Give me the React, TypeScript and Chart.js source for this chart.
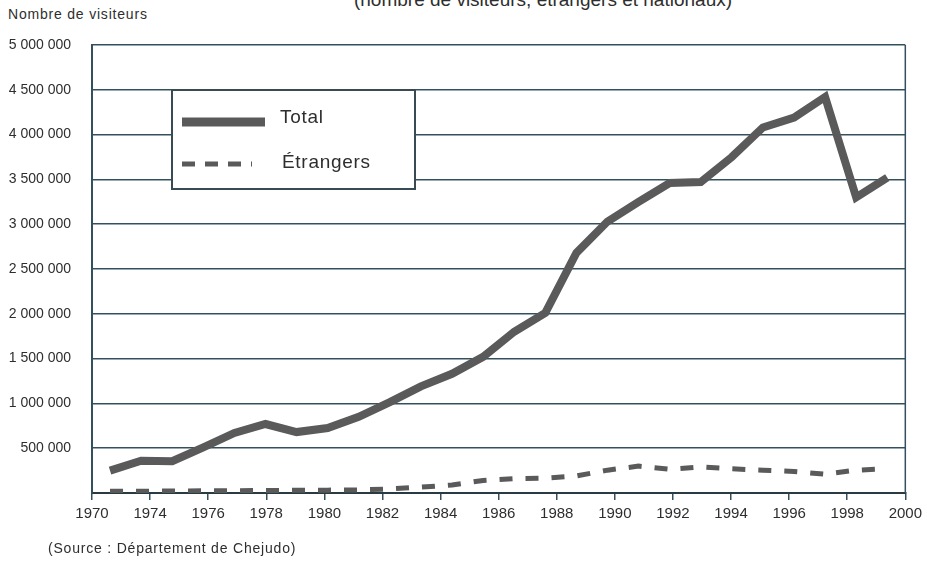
import React, { useEffect, useRef } from "react";
import { Chart, registerables } from "chart.js";

Chart.register(...registerables);

// Axis tick labels as printed on the original chart
const xTickLabels = ["1970", "1974", "1976", "1978", "1980", "1982", "1984", "1986", "1988", "1990", "1992", "1994", "1996", "1998", "2000"];

// Data years (one point per year)
const years = [1974, 1975, 1976, 1977, 1978, 1979, 1980, 1981, 1982, 1983, 1984, 1985, 1986, 1987, 1988, 1989, 1990, 1991, 1992, 1993, 1994, 1995, 1996, 1997, 1998, 1999];

// Total visitors
const totalValues = [250000, 360000, 355000, 510000, 670000, 770000, 680000, 725000, 850000, 1015000, 1190000, 1330000, 1520000, 1800000, 2010000, 2680000, 3030000, 3250000, 3460000, 3470000, 3750000, 4080000, 4190000, 4420000, 3300000, 3520000];

// Foreign visitors
const foreignValues = [20000, 20000, 22000, 25000, 25000, 28000, 30000, 32000, 35000, 45000, 65000, 90000, 140000, 160000, 165000, 190000, 255000, 300000, 265000, 290000, 270000, 255000, 240000, 210000, 255000, 270000];

const yTicks = { min: 0, max: 5000000, step: 500000 };

const FONT = "'Liberation Sans', Arial, Helvetica, sans-serif";
const GRID = "#34505e";
const LINE = "#5a5a5a";
const TEXT = "#2e2e2e";

function fmt(v: number): string {
  return String(Math.round(v)).replace(/\B(?=(\d{3})+(?!\d))/g, " ");
}

const framePlugin = {
  id: "frameAndLegend",
  afterDatasetsDraw(chart: any) {
    const { ctx, chartArea } = chart;
    ctx.save();
    // right border
    ctx.strokeStyle = GRID;
    ctx.lineWidth = 1.5;
    ctx.beginPath();
    ctx.moveTo(chartArea.right, chartArea.top);
    ctx.lineTo(chartArea.right, chartArea.bottom);
    ctx.stroke();

    // legend box
    const bx = chartArea.left + 80;
    const by = chartArea.top + 45;
    const bw = 243;
    const bh = 99;
    ctx.fillStyle = "#ffffff";
    ctx.fillRect(bx, by, bw, bh);
    ctx.strokeStyle = "#3a4a52";
    ctx.lineWidth = 2;
    ctx.strokeRect(bx, by, bw, bh);

    const ds = chart.data.datasets;
    // Total entry
    ctx.strokeStyle = ds[0].borderColor;
    ctx.lineWidth = 9;
    ctx.setLineDash([]);
    ctx.beginPath();
    ctx.moveTo(bx + 10, by + 32);
    ctx.lineTo(bx + 93, by + 32);
    ctx.stroke();
    // Foreign entry
    ctx.strokeStyle = ds[1].borderColor;
    ctx.lineWidth = 5;
    ctx.setLineDash([13, 10]);
    ctx.beginPath();
    ctx.moveTo(bx + 10, by + 74);
    ctx.lineTo(bx + 80, by + 74);
    ctx.stroke();
    ctx.setLineDash([]);

    ctx.fillStyle = TEXT;
    ctx.font = `19px ${FONT}`;
    try { (ctx as any).letterSpacing = "0.7px"; } catch (e) {}
    ctx.textBaseline = "middle";
    ctx.textAlign = "left";
    ctx.fillText(ds[0].label, bx + 108, by + 28);
    ctx.fillText(ds[1].label, bx + 110, by + 73);
    try { (ctx as any).letterSpacing = "0px"; } catch (e) {}
    ctx.restore();
  },
};

export default function App() {
  const ref = useRef<HTMLCanvasElement | null>(null);

  useEffect(() => {
    if (!ref.current) return;
    const chart = new Chart(ref.current, {
      type: "line",
      data: {
        datasets: [
          {
            label: "Total",
            data: years.map((y, i) => ({ x: y, y: totalValues[i] })),
            borderColor: LINE,
            borderWidth: 8,
            pointRadius: 0,
            tension: 0,
            xAxisID: "xd",
            yAxisID: "y",
          },
          {
            label: "Étrangers",
            data: years.map((y, i) => ({ x: y, y: foreignValues[i] })),
            borderColor: LINE,
            borderWidth: 5,
            borderDash: [13, 13],
            pointRadius: 0,
            tension: 0,
            xAxisID: "xd",
            yAxisID: "y",
          },
        ],
      },
      plugins: [framePlugin],
      options: {
        animation: false,
        responsive: false,
        maintainAspectRatio: false,
        layout: { padding: { top: 45, left: 0, right: 21, bottom: 0 } },
        plugins: {
          legend: { display: false },
          tooltip: { enabled: false },
          title: { display: false },
        },
        scales: {
          xd: {
            type: "linear",
            display: false,
            min: 1973.42,
            max: 1999.58,
          },
          x: {
            type: "category",
            labels: xTickLabels,
            offset: false,
            position: "bottom",
            grid: {
              drawOnChartArea: false,
              drawTicks: true,
              tickLength: 7,
              color: GRID,
              lineWidth: 1.5,
            },
            border: { display: true, color: "#2a3a42", width: 2 },
            ticks: {
              color: TEXT,
              font: { family: FONT, size: 15 },
              padding: 5,
              maxRotation: 0,
              autoSkip: false,
            },
            afterFit(scale: any) {
              scale.height = 74;
            },
          },
          y: {
            type: "linear",
            min: yTicks.min,
            max: yTicks.max,
            ticks: {
              stepSize: yTicks.step,
              color: TEXT,
              font: { family: FONT, size: 14 },
              padding: 21,
              callback: (v: any) => (Number(v) === 0 ? "" : fmt(Number(v))),
            },
            grid: { color: GRID, lineWidth: 1.5, drawTicks: false },
            border: { display: true, color: GRID, width: 2 },
            afterFit(scale: any) {
              scale.width = 92;
            },
          },
        },
      },
    });
    return () => chart.destroy();
  }, []);

  return (
    <div style={{ position: "fixed", left: 0, top: 0, width: 927, height: 567, overflow: "hidden", background: "#fff", fontFamily: FONT }}>
      <div style={{ position: "absolute", left: 0, width: 1086, top: -10, textAlign: "center", fontSize: 19, lineHeight: "19px", color: TEXT }}>
        (nombre de visiteurs, étrangers et nationaux)
      </div>
      <div style={{ position: "absolute", left: 8, top: 6, fontSize: 14, letterSpacing: "0.8px", color: TEXT }}>Nombre de visiteurs</div>
      <canvas ref={ref} width={927} height={567} style={{ position: "absolute", left: 0, top: 0 }} />
      <div style={{ position: "absolute", left: 48, top: 540, fontSize: 14, letterSpacing: "0.8px", color: TEXT }}>(Source : Département de Chejudo)</div>
    </div>
  );
}
